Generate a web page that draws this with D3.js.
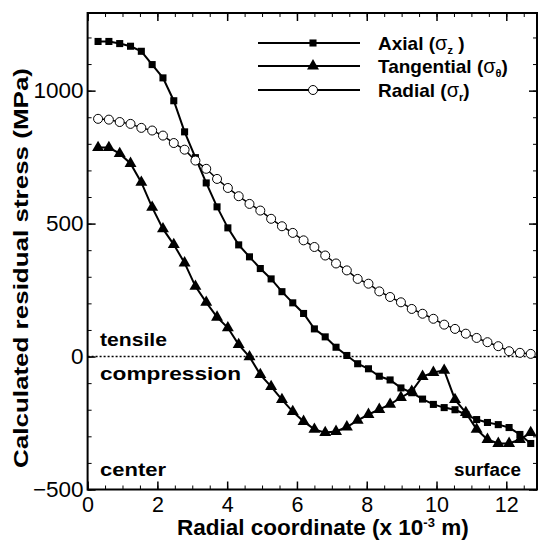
<!DOCTYPE html>
<html>
<head>
<meta charset="utf-8">
<script src="https://cdn.jsdelivr.net/npm/d3@7"></script>
<style>
  body { margin: 0; background: #fff; }
  svg { display: block; font-family: "Liberation Sans", Arial, sans-serif; }
</style>
</head>
<body>
<svg id="drawing_region"></svg>
<script>
// radial coordinate (x 10^-3 m)
var radius = [0.30, 0.61, 0.92, 1.23, 1.54, 1.85, 2.16, 2.47, 2.78, 3.09, 3.40,
    3.71, 4.02, 4.33, 4.64, 4.95, 5.26, 5.57, 5.88, 6.19, 6.50, 6.81, 7.12,
    7.43, 7.74, 8.05, 8.36, 8.67, 8.98, 9.29, 9.60, 9.91, 10.22, 10.53, 10.84,
    11.15, 11.46, 11.77, 12.08, 12.39, 12.70];

// stresses in MPa
var axial = [1185, 1185, 1177, 1167, 1148, 1098, 1048, 962, 845, 748, 653,
    563, 484, 420, 375, 331, 292, 244, 202, 162, 104, 74, 35,
    4, -27, -46, -74, -88, -118, -136, -160, -180, -192, -200, -218,
    -237, -248, -256, -267, -293, -327];
var tangential = [786, 786, 763, 726, 655, 561, 480, 421, 352, 264, 204,
    148, 108, 45, -1, -68, -113, -162, -207, -244, -274, -286, -282,
    -265, -240, -218, -199, -180, -154, -131, -75, -60, -52, -162, -211,
    -274, -312, -327, -327, -312, -286];
var radial = [894, 891, 882, 875, 860, 850, 831, 803, 778, 737, 706,
    668, 634, 603, 574, 549, 518, 490, 465, 437, 412, 380, 350,
    324, 292, 274, 245, 224, 204, 179, 161, 142, 120, 104, 86,
    70, 54, 39, 20, 14, 10];

var xTicks = [0, 2, 4, 6, 8, 10, 12];
var yTicks = [-500, 0, 500, 1000];

var W = 539, H = 541;
var svg = d3.select('#drawing_region').attr('width', W).attr('height', H);

var pLeft = 87.6, pRight = 537, pTop = 13, pBottom = 489.5;

var xScale = d3.scaleLinear().domain([0, 12.88]).range([pLeft, pRight]);
var yScale = d3.scaleLinear().domain([-500, 1292]).range([pBottom, pTop]);

var xMinor = d3.range(0, 12.9, 0.5);
var yMinor = d3.range(-500, 1292, 100);

function styleAxis(g) {
    g.select('.domain').remove();
    g.selectAll('.tick line').attr('stroke', '#000').attr('stroke-width', 1.5);
}

// major ticks with labels
svg.append('g')
    .attr('transform', 'translate(0,' + pBottom + ')')
    .call(d3.axisBottom(xScale).tickValues(xTicks).tickSize(-8).tickPadding(7).tickFormat(d3.format('d')))
    .call(styleAxis)
    .call(g => g.selectAll('text').attr('font-size', 21.5).attr('fill', '#000')
        .attr('font-family', '"Liberation Sans", Arial, sans-serif'));

svg.append('g')
    .attr('transform', 'translate(' + pLeft + ',0)')
    .call(d3.axisLeft(yScale).tickValues(yTicks).tickSize(-8).tickPadding(4).tickFormat(d3.format('d')))
    .call(styleAxis)
    .call(g => g.selectAll('text').attr('font-size', 22.5).attr('fill', '#000')
        .attr('font-family', '"Liberation Sans", Arial, sans-serif'));

// mirrored ticks top / right
svg.append('g').attr('transform', 'translate(0,' + pTop + ')')
    .call(d3.axisTop(xScale).tickValues(xTicks).tickSize(-8).tickFormat(''))
    .call(styleAxis);
svg.append('g').attr('transform', 'translate(' + pRight + ',0)')
    .call(d3.axisRight(yScale).tickValues(yTicks).tickSize(-8).tickFormat(''))
    .call(styleAxis);

// minor ticks
svg.append('g').attr('transform', 'translate(0,' + pBottom + ')')
    .call(d3.axisBottom(xScale).tickValues(xMinor).tickSize(-4).tickFormat(''))
    .call(styleAxis).selectAll('line').attr('stroke-width', 1);
svg.append('g').attr('transform', 'translate(0,' + pTop + ')')
    .call(d3.axisTop(xScale).tickValues(xMinor).tickSize(-4).tickFormat(''))
    .call(styleAxis).selectAll('line').attr('stroke-width', 1);
svg.append('g').attr('transform', 'translate(' + pLeft + ',0)')
    .call(d3.axisLeft(yScale).tickValues(yMinor).tickSize(-4).tickFormat(''))
    .call(styleAxis).selectAll('line').attr('stroke-width', 1);
svg.append('g').attr('transform', 'translate(' + pRight + ',0)')
    .call(d3.axisRight(yScale).tickValues(yMinor).tickSize(-4).tickFormat(''))
    .call(styleAxis).selectAll('line').attr('stroke-width', 1);

// frame
svg.append('rect')
    .attr('x', pLeft).attr('y', pTop)
    .attr('width', pRight - pLeft).attr('height', pBottom - pTop)
    .attr('fill', 'none').attr('stroke', '#000').attr('stroke-width', 2);

// zero line
svg.append('line')
    .attr('x1', pLeft).attr('x2', pRight)
    .attr('y1', yScale(0)).attr('y2', yScale(0))
    .attr('stroke', '#000').attr('stroke-width', 1.5)
    .attr('stroke-dasharray', '2,2');

var line = d3.line().x(d => xScale(d[0])).y(d => yScale(d[1]));

function series(values) {
    return radius.map((r, i) => [r, values[i]]);
}

var sq = d3.symbol(d3.symbolSquare).size(50);
var tri = d3.symbol(d3.symbolTriangle).size(62);

// axial
svg.append('path').datum(series(axial))
    .attr('d', line).attr('fill', 'none').attr('stroke', '#000').attr('stroke-width', 2);
svg.selectAll('.sq').data(series(axial)).enter().append('path')
    .attr('class', 'sq')
    .attr('transform', d => 'translate(' + xScale(d[0]) + ',' + yScale(d[1]) + ')')
    .attr('d', sq).attr('fill', '#000');

// tangential
svg.append('path').datum(series(tangential))
    .attr('d', line).attr('fill', 'none').attr('stroke', '#000').attr('stroke-width', 2);
svg.selectAll('.tri').data(series(tangential)).enter().append('path')
    .attr('class', 'tri')
    .attr('transform', d => 'translate(' + xScale(d[0]) + ',' + yScale(d[1]) + ')')
    .attr('d', tri).attr('fill', '#000');

// radial
svg.append('path').datum(series(radial))
    .attr('d', line).attr('fill', 'none').attr('stroke', '#000').attr('stroke-width', 1.5);
svg.selectAll('.circ').data(series(radial)).enter().append('circle')
    .attr('class', 'circ')
    .attr('cx', d => xScale(d[0])).attr('cy', d => yScale(d[1]))
    .attr('r', 4.5).attr('fill', '#fff').attr('stroke', '#000').attr('stroke-width', 1);

// legend
var legend = [
    { name: 'Axial', sub: 'z', mark: 'sq', y: 43 },
    { name: 'Tangential', sub: '\u03b8', mark: 'tri', y: 66 },
    { name: 'Radial', sub: 'r', mark: 'circ', y: 90 }
];
legend.forEach(function(d) {
    svg.append('line').attr('x1', 258).attr('x2', 360).attr('y1', d.y).attr('y2', d.y)
        .attr('stroke', '#000').attr('stroke-width', 2);
    if (d.mark === 'sq') {
        svg.append('path').attr('d', sq).attr('transform', 'translate(313,' + d.y + ')');
    } else if (d.mark === 'tri') {
        svg.append('path').attr('d', tri).attr('transform', 'translate(313,' + d.y + ')');
    } else {
        svg.append('circle').attr('cx', 313).attr('cy', d.y).attr('r', 4.5)
            .attr('fill', '#fff').attr('stroke', '#000');
    }
    var t = svg.append('text').attr('x', 378).attr('y', d.y + 7)
        .attr('font-size', 19).attr('font-weight', 'bold');
    t.append('tspan').text(d.name + ' (');
    t.append('tspan').attr('font-weight', 'normal').attr('font-size', 20).text('\u03c3');
    t.append('tspan').attr('font-size', 11).attr('dy', 4).text(d.sub);
    t.append('tspan').attr('dy', -4).text(d.mark === 'sq' ? ' )' : ')');
});

// annotations
function label(x, y, txt, anchor, len) {
    svg.append('text').attr('x', x).attr('y', y)
        .attr('text-anchor', anchor).attr('font-size', 18).attr('font-weight', 'bold')
        .attr('textLength', len).attr('lengthAdjust', 'spacingAndGlyphs')
        .text(txt);
}
label(100, 346, 'tensile', 'start', 67);
label(100, 380, 'compression', 'start', 141);
label(100, 476, 'center', 'start', 66);
label(454, 476, 'surface', 'start', 67);

// axis titles
var xt = svg.append('text').attr('x', 177).attr('y', 535)
    .attr('font-size', 22.5).attr('font-weight', 'bold');
xt.append('tspan').text('Radial coordinate (x 10');
xt.append('tspan').attr('font-size', 13).attr('dy', -8).text('-3');
xt.append('tspan').attr('dy', 8).text(' m)');

svg.append('text')
    .attr('transform', 'translate(28,268) rotate(-90)')
    .attr('text-anchor', 'middle').attr('font-size', 20).attr('font-weight', 'bold')
    .attr('textLength', 400).attr('lengthAdjust', 'spacingAndGlyphs')
    .text('Calculated residual stress (MPa)');
</script>
</body>
</html>
